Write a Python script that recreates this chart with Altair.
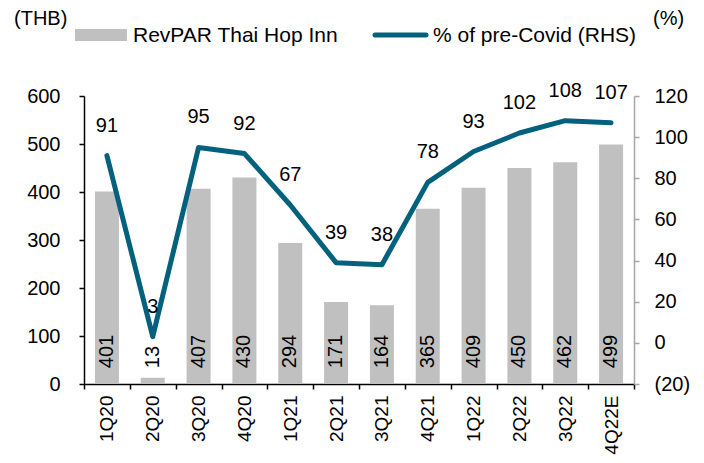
import altair as alt
import pandas as pd

quarters = ["1Q20", "2Q20", "3Q20", "4Q20", "1Q21", "2Q21", "3Q21", "4Q21",
            "1Q22", "2Q22", "3Q22", "4Q22E"]
revpar = [401, 13, 407, 430, 294, 171, 164, 365, 409, 450, 462, 499]
pct_pre_covid = [91, 3, 95, 92, 67, 39, 38, 78, 93, 102, 108, 107]

left_ticks = [0, 100, 200, 300, 400, 500, 600]
right_ticks = [-20, 0, 20, 40, 60, 80, 100, 120]

FONT = "Liberation Sans"
BAR_COLOR = "#C0C0C0"
LINE_COLOR = "#03617D"
FS = 20
LFS = 21
XFS = 19

df = pd.DataFrame({"q": quarters, "revpar": revpar, "pct": pct_pre_covid})
dummy = pd.DataFrame({"a": [0]})

xenc = alt.X("q:N", sort=quarters, title=None,
             scale=alt.Scale(type="band", paddingInner=0, paddingOuter=0),
             axis=alt.Axis(labelAngle=270, labelFont=FONT, labelFontSize=XFS,
                           labelColor="black", domainColor="black", domainWidth=1.5,
                           tickColor="black", tickWidth=1.5, tickSize=5,
                           tickBand="extent", labelPadding=6, grid=False))

yleft = alt.Scale(domain=[0, 600], nice=False)
yright = alt.Scale(domain=[-20, 120], nice=False)

bars = alt.Chart(df).mark_bar(size=24, color=BAR_COLOR).encode(
    x=xenc,
    y=alt.Y("revpar:Q", scale=yleft, title=None,
            axis=alt.Axis(values=left_ticks, orient="left", labelFont=FONT,
                          labelFontSize=FS, labelColor="black", domainColor="black",
                          domainWidth=1.5, tickColor="black", tickWidth=1.5,
                          tickSize=5, labelPadding=19, grid=False)),
)

bar_labels = alt.Chart(df).mark_text(angle=270, align="left", baseline="middle",
                                     font=FONT, fontSize=FS, color="black").encode(
    x=alt.X("q:N", sort=quarters),
    y=alt.datum(33),
    text=alt.Text("revpar:Q"),
)

left = alt.layer(bars, bar_labels)

line = alt.Chart(df).mark_line(color=LINE_COLOR, strokeWidth=5, strokeJoin="round",
                               strokeCap="round").encode(
    x=alt.X("q:N", sort=quarters),
    y=alt.Y("pct:Q", scale=yright, title=None,
            axis=alt.Axis(values=right_ticks, orient="right", labelFont=FONT,
                          labelFontSize=FS, labelColor="black", domainColor="#A6A6A6",
                          domainWidth=1.5, tickColor="#A6A6A6", tickWidth=1.5,
                          tickSize=5, labelPadding=15, grid=False,
                          labelExpr="datum.value < 0 ? '(' + abs(datum.value) + ')' : datum.label")),
)

line_labels = alt.Chart(df).mark_text(dy=-30, baseline="middle", align="center",
                                      font=FONT, fontSize=FS, color="black").encode(
    x=alt.X("q:N", sort=quarters),
    y=alt.Y("pct:Q", scale=yright),
    text=alt.Text("pct:Q"),
)

right = alt.layer(line, line_labels)

# legend and unit labels
leg_rect = alt.Chart(dummy).mark_rect(color=BAR_COLOR).encode(
    x=alt.value(-9), x2=alt.value(43), y=alt.value(-67), y2=alt.value(-55))
leg_text1 = alt.Chart(dummy).mark_text(text="RevPAR Thai Hop Inn", align="left",
                                       baseline="middle", font=FONT, fontSize=LFS,
                                       color="black").encode(
    x=alt.value(49), y=alt.value(-60))
leg_line = alt.Chart(dummy).mark_rule(color=LINE_COLOR, strokeWidth=5,
                                      strokeCap="round").encode(
    x=alt.value(291), x2=alt.value(342), y=alt.value(-61))
leg_text2 = alt.Chart(dummy).mark_text(text="% of pre-Covid (RHS)", align="left",
                                       baseline="middle", font=FONT, fontSize=LFS,
                                       color="black").encode(
    x=alt.value(349), y=alt.value(-60))
unit_left = alt.Chart(dummy).mark_text(text="(THB)", align="left", baseline="top",
                                       font=FONT, fontSize=FS, color="black").encode(
    x=alt.value(-70), y=alt.value(-87))
unit_right = alt.Chart(dummy).mark_text(text="(%)", align="left", baseline="top",
                                        font=FONT, fontSize=FS, color="black").encode(
    x=alt.value(569), y=alt.value(-87))

chart = alt.layer(
    left, right, leg_rect, leg_text1, leg_line, leg_text2, unit_left, unit_right
).resolve_scale(y="independent").properties(
    width=550, height=288,
    autosize=alt.AutoSizeParams(type="none"),
    padding={"left": 76, "top": 88, "right": 62, "bottom": 71},
    background="white",
).configure_view(stroke=None)

chart.save("out.html", embed_options={"renderer": "svg", "actions": False})
